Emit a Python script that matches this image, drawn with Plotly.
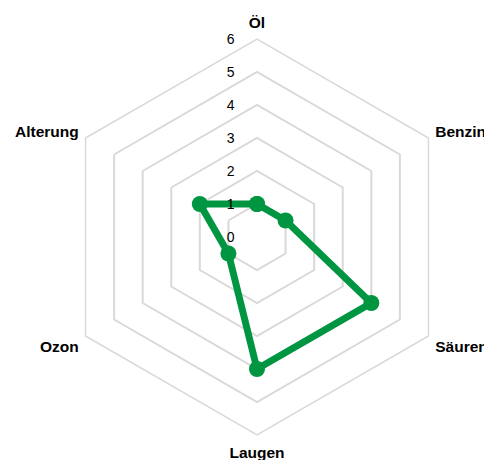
import plotly.graph_objects as go

categories = ["Öl", "Benzin", "Säuren", "Laugen", "Ozon", "Alterung"]
values = [1, 1, 4, 4, 1, 2]
tick_vals = [0, 1, 2, 3, 4, 5, 6]
tick_text = ["0", "1", "2", "3", "4", "5", "6"]

W, H = 492, 460
PAGE_OFF = 8  # default body margin of the HTML page
cx, cy, R = 257 - PAGE_OFF, 237 - PAGE_OFF, 198

fig = go.Figure()
fig.add_trace(go.Scatterpolar(
    r=values + values[:1],
    theta=categories + categories[:1],
    mode="lines+markers",
    line=dict(color="#009641", width=7),
    marker=dict(color="#009641", size=16),
    showlegend=False,
    hoverinfo="skip",
))

fig.update_layout(
    width=W, height=H,
    margin=dict(l=0, r=0, t=0, b=0),
    paper_bgcolor="white",
    plot_bgcolor="white",
    font=dict(family="Liberation Sans, Arial, sans-serif", color="#000000"),
    polar=dict(
        domain=dict(x=[(cx - R) / W, (cx + R) / W],
                    y=[(H - cy - R) / H, (H - cy + R) / H]),
        bgcolor="white",
        gridshape="linear",
        angularaxis=dict(
            direction="clockwise",
            rotation=90,
            showgrid=False,
            showline=True,
            linecolor="#d9d9d9",
            linewidth=1.5,
            ticks="outside",
            ticklen=4,
            tickcolor="rgba(0,0,0,0)",
            tickfont=dict(size=15.5, family="Liberation Sans, Arial, sans-serif",
                          color="#000000", weight="bold"),
            categoryorder="array",
            categoryarray=categories,
        ),
        radialaxis=dict(
            range=[0, 6],
            angle=90,
            tickangle=90,
            tickvals=tick_vals,
            ticktext=tick_text,
            showline=False,
            ticks="outside",
            ticklen=17,
            tickcolor="rgba(0,0,0,0)",
            side="counterclockwise",
            gridcolor="#d9d9d9",
            gridwidth=1.5,
            tickfont=dict(size=14, color="#000000"),
        ),
    ),
)

fig.write_html("out.html")
